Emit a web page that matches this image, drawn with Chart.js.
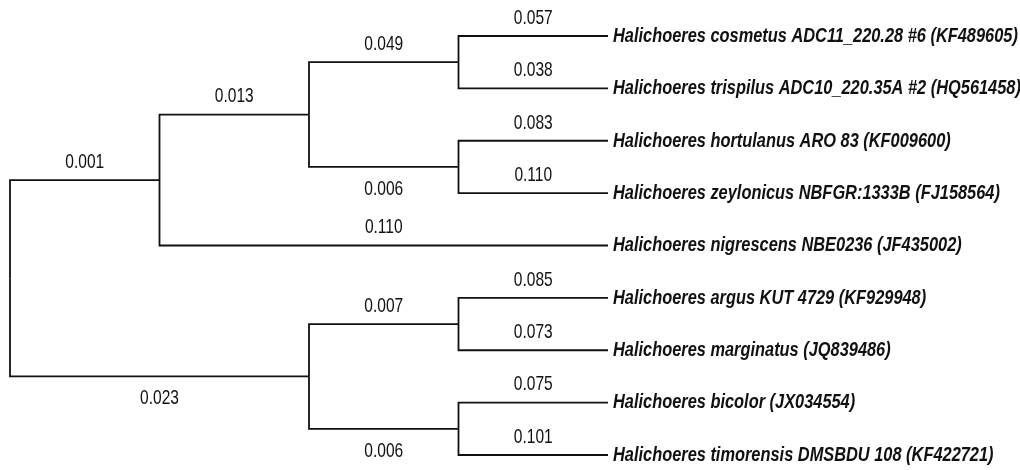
<!DOCTYPE html>
<html>
<head>
<meta charset="utf-8">
<script src="https://cdn.jsdelivr.net/npm/chart.js@4/dist/chart.umd.min.js"></script>
<style>
  html, body { margin: 0; padding: 0; background: #fff; }
  #wrap { width: 1020px; height: 470px; position: relative; }
</style>
</head>
<body>
<div id="wrap"><canvas id="tree-chart"></canvas></div>
<script>
// tips, top to bottom
const tipNames = [
    "Halichoeres cosmetus ADC11_220.28 #6 (KF489605)",
    "Halichoeres trispilus ADC10_220.35A #2 (HQ561458)",
    "Halichoeres hortulanus ARO 83 (KF009600)",
    "Halichoeres zeylonicus NBFGR:1333B (FJ158564)",
    "Halichoeres nigrescens NBE0236 (JF435002)",
    "Halichoeres argus KUT 4729 (KF929948)",
    "Halichoeres marginatus (JQ839486)",
    "Halichoeres bicolor (JX034554)",
    "Halichoeres timorensis DMSBDU 108 (KF422721)"
];
const tipLengths = [0.057, 0.038, 0.083, 0.110, 0.110, 0.085, 0.073, 0.075, 0.101];
const tipParents = ["C1", "C1", "C2", "C2", "A", "E", "E", "F", "F"];

// internal nodes
const nodeNames   = ["root", "A", "B", "C1", "C2", "D", "E", "F"];
const nodeParents = [null, "root", "A", "B", "B", "root", "D", "D"];
const nodeLengths = [null, 0.001, 0.013, 0.049, 0.006, 0.023, 0.007, 0.006];

// ---- layout from topology (tips aligned on the right) ----
function nodeDepth(name){
    let d = 0, p = nodeParents[nodeNames.indexOf(name)];
    while(p){ d++; p = nodeParents[nodeNames.indexOf(p)]; }
    return d;
}
const tipDepth = Math.max(...nodeNames.map(nodeDepth)) + 1;

function children(name){
    const out = [];
    tipParents.forEach((p, i) => { if(p === name) out.push({ x: tipDepth, y: i }); });
    nodeNames.forEach(n => { if(nodeParents[nodeNames.indexOf(n)] === name) out.push(nodePos(n)); });
    return out;
}
function nodePos(name){
    const kids = children(name);
    const ys = kids.map(k => k.y);
    return {
        x: Math.min(...kids.map(k => k.x)) - 1,
        y: (Math.min(...ys) + Math.max(...ys)) / 2
    };
}
const pos = {};
nodeNames.forEach(n => { pos[n] = nodePos(n); });

const branches = [];
nodeNames.forEach((n, i) => {
    if(!nodeParents[i]) return;
    const p = pos[nodeParents[i]], c = pos[n];
    branches.push({ from: p, to: c, len: nodeLengths[i], above: c.y < p.y });
});
tipNames.forEach((t, i) => {
    const p = pos[tipParents[i]];
    branches.push({ from: p, to: { x: tipDepth, y: i }, len: tipLengths[i], above: true, name: t });
});

const datasets = branches.map(b => ({
    data: [
        { x: b.from.x, y: b.from.y },
        { x: b.from.x, y: b.to.y },
        { x: b.to.x, y: b.to.y }
    ],
    showLine: true,
    borderColor: "#111",
    borderWidth: 1.8,
    pointRadius: 0,
    pointHoverRadius: 0,
    clip: false,
    tension: 0
}));

const labelPlugin = {
    id: "treeLabels",
    afterDatasetsDraw(chart){
        const ctx = chart.ctx, xs = chart.scales.x, ys = chart.scales.y;
        ctx.save();
        ctx.fillStyle = "#111";
        branches.forEach(b => {
            const x0 = xs.getPixelForValue(b.from.x);
            const x1 = xs.getPixelForValue(b.to.x);
            const y = ys.getPixelForValue(b.to.y);
            // branch length
            ctx.save();
            ctx.translate((x0 + x1) / 2, b.above ? y - 18 : y + 22);
            ctx.scale(0.74, 1);
            ctx.font = '21px "Liberation Sans", Arial, sans-serif';
            ctx.textAlign = "center";
            ctx.textBaseline = "middle";
            ctx.fillText(b.len.toFixed(3), 0, 0);
            ctx.restore();
            // taxon name
            if(b.name){
                ctx.save();
                ctx.translate(x1 + 5, y);
                ctx.scale(0.78, 1);
                ctx.font = 'italic bold 21px "Liberation Sans", Arial, sans-serif';
                ctx.textAlign = "left";
                ctx.textBaseline = "middle";
                ctx.fillText(b.name, 0, 0);
                ctx.restore();
            }
        });
        ctx.restore();
    }
};

const ctx = document.getElementById("tree-chart").getContext("2d");
const treeChart = new Chart(ctx, {
    type: "scatter",
    data: { datasets: datasets },
    options: {
        responsive: true,
        maintainAspectRatio: false,
        animation: false,
        layout: { padding: { left: 10, right: 412, top: 36, bottom: 15 } },
        plugins: { legend: { display: false }, tooltip: { enabled: false } },
        events: [],
        scales: {
            x: { type: "linear", min: 0, max: tipDepth, display: false },
            y: { type: "linear", min: 0, max: tipNames.length - 1, reverse: true, display: false }
        }
    },
    plugins: [labelPlugin]
});
</script>
</body>
</html>
